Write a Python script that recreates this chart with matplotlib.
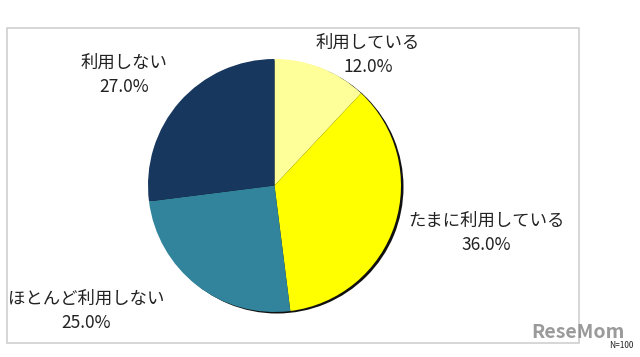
import matplotlib
matplotlib.use("Agg")
import matplotlib.pyplot as plt
from matplotlib.patches import Rectangle

plt.rcParams['font.family'] = ['Noto Sans CJK JP', 'DejaVu Sans']

# Data
categories = ["利用している", "たまに利用している", "ほとんど利用しない", "利用しない"]
shares = [12.0, 36.0, 25.0, 27.0]
colors = ["#FFFF99", "#FFFF00", "#31849B", "#17375E"]

# label positions in pixels (x, y from top)
label_pos = [(368, 55), (486, 233), (86, 311), (124, 75)]

W, H = 640, 357
fig = plt.figure(figsize=(6.4, 3.57), dpi=100)
ax = fig.add_axes([0, 0, 1, 1])

cx, cy, r = 274.5, H - 185.5, 126.5

# shadow behind the pie
ax.pie([1], colors=["#111111"], radius=r, center=(cx + 2.5, cy - 1.5),
       frame=True, wedgeprops=dict(linewidth=0))
ax.pie(shares, colors=colors, radius=r, center=(cx, cy), startangle=90,
       counterclock=False, frame=True, wedgeprops=dict(linewidth=0))
ax.set_xlim(0, W)
ax.set_ylim(0, H)
ax.set_aspect('equal')
ax.axis('off')

# frame
ax.add_patch(Rectangle((7, H - 343), 572, 315, fill=False,
                       edgecolor="#d0d0d0", linewidth=1.2))

for cat, val, (x, y) in zip(categories, shares, label_pos):
    ax.text(x, H - y, f"{cat}\n{val:.1f}%", ha="center", va="center",
            fontsize=12.5, color="#222222", linespacing=1.5)

ax.text(578, H - 332, "ReseMom", ha="center", va="center", fontsize=14,
        fontweight="bold", color="#888888", alpha=0.85)
ax.text(633, H - 345, "N=100", ha="right", va="center", fontsize=6,
        color="#222222")

fig.savefig("out.png", dpi=100)
